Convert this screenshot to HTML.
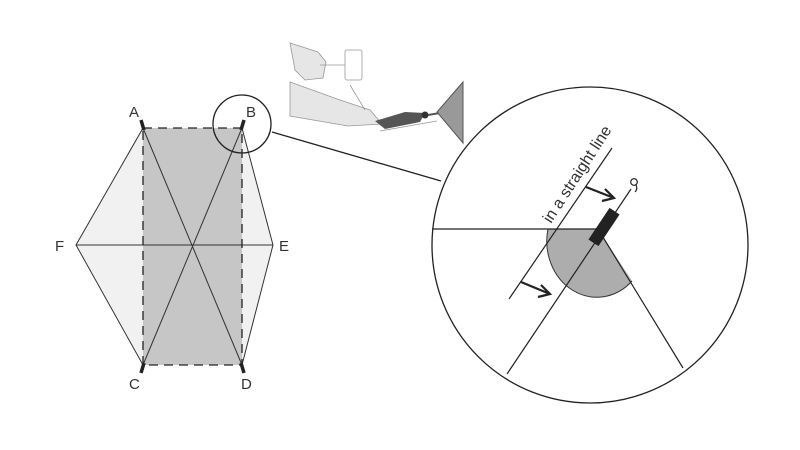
<!DOCTYPE html>
<html><head><meta charset="utf-8"><style>
html,body{margin:0;padding:0;background:#fff;width:800px;height:450px;overflow:hidden}
svg{display:block}
text{font-family:"Liberation Sans",sans-serif;fill:#333}
</style></head><body>
<svg width="800" height="450" viewBox="0 0 800 450">
<polygon points="143,128 242,128 273,245 242,365 143,365 76,245" fill="#f1f1f1"/>
<rect x="143" y="128" width="99" height="237" fill="#c6c6c7"/>
<g stroke="#333" stroke-width="1" fill="none">
<polyline points="143,128 76,245 143,365"/>
<polyline points="242,128 273,245 242,365"/>
<line x1="76" y1="245" x2="273" y2="245"/>
<line x1="143" y1="128" x2="242" y2="365"/>
<line x1="242" y1="128" x2="143" y2="365"/>
</g>
<rect x="143" y="128" width="99" height="237" fill="none" stroke="#222" stroke-width="1.3" stroke-dasharray="9,6"/>
<g stroke="#222" stroke-width="3.5">
<line x1="141" y1="120" x2="144" y2="130"/>
<line x1="244" y1="120" x2="241" y2="130"/>
<line x1="141" y1="373" x2="144" y2="363"/>
<line x1="244" y1="373" x2="241" y2="363"/>
</g>
<g font-size="15">
<text x="129" y="117">A</text>
<text x="246" y="117">B</text>
<text x="129" y="389">C</text>
<text x="241" y="389">D</text>
<text x="55" y="251">F</text>
<text x="279" y="251">E</text>
</g>
<circle cx="242" cy="124" r="29" fill="none" stroke="#222" stroke-width="1.3"/>
<line x1="272" y1="132" x2="441" y2="181" stroke="#222" stroke-width="1.3"/>
<g stroke="#999" stroke-width="0.8" fill="#e6e6e6">
<polygon points="290,43 318,52 326,62 323,78 305,80 295,70"/>
<line x1="320" y1="65" x2="345" y2="65"/>
<rect x="345" y="50" width="17" height="30" rx="2" fill="#fff"/>
<polygon points="290,82 340,100 370,110 382,124 348,126 290,116"/>
<line x1="350" y1="85" x2="365" y2="110"/>
</g>
<polygon points="375,121 405,112 425,113 420,122 385,129" fill="#555"/>
<circle cx="425" cy="115" r="3.5" fill="#333"/>
<line x1="428" y1="115" x2="440" y2="113" stroke="#555" stroke-width="2"/>
<polygon points="463,82 463,143 437,112" fill="#999" stroke="#555" stroke-width="1"/>
<line x1="380" y1="131" x2="437" y2="121" stroke="#999" stroke-width="0.8"/>
<circle cx="590" cy="245" r="158" fill="none" stroke="#222" stroke-width="1.3"/>
<path d="M598,229 L548,229 A50,56 0 0 0 632,281 Z" fill="#adadad"/>
<path d="M548,229 A50,56 0 0 0 632,281" fill="none" stroke="#333" stroke-width="1"/>
<g stroke="#222" stroke-width="1.2" fill="none">
<line x1="432" y1="229" x2="598" y2="229"/>
<line x1="507" y1="374" x2="631" y2="189"/>
<line x1="598" y1="229" x2="683" y2="368"/>
<line x1="509" y1="299" x2="612" y2="148"/>
<circle cx="634" cy="182" r="3.3"/>
<path d="M636,185 q2,4 -1,7"/>
</g>
<rect x="-19" y="-6" width="38" height="12" fill="#222" transform="translate(604,227) rotate(-56.2)"/>
<g stroke="#222" stroke-width="2.2" fill="none">
<line x1="586" y1="187" x2="614" y2="198"/>
<polyline points="605,189 614,198 602,201"/>
<line x1="521" y1="282" x2="550" y2="294"/>
<polyline points="541,285 550,294 538,297"/>
</g>
<text x="0" y="0" font-size="16" transform="translate(551,224) rotate(-57)">in a straight line</text>
</svg>
</body></html>
